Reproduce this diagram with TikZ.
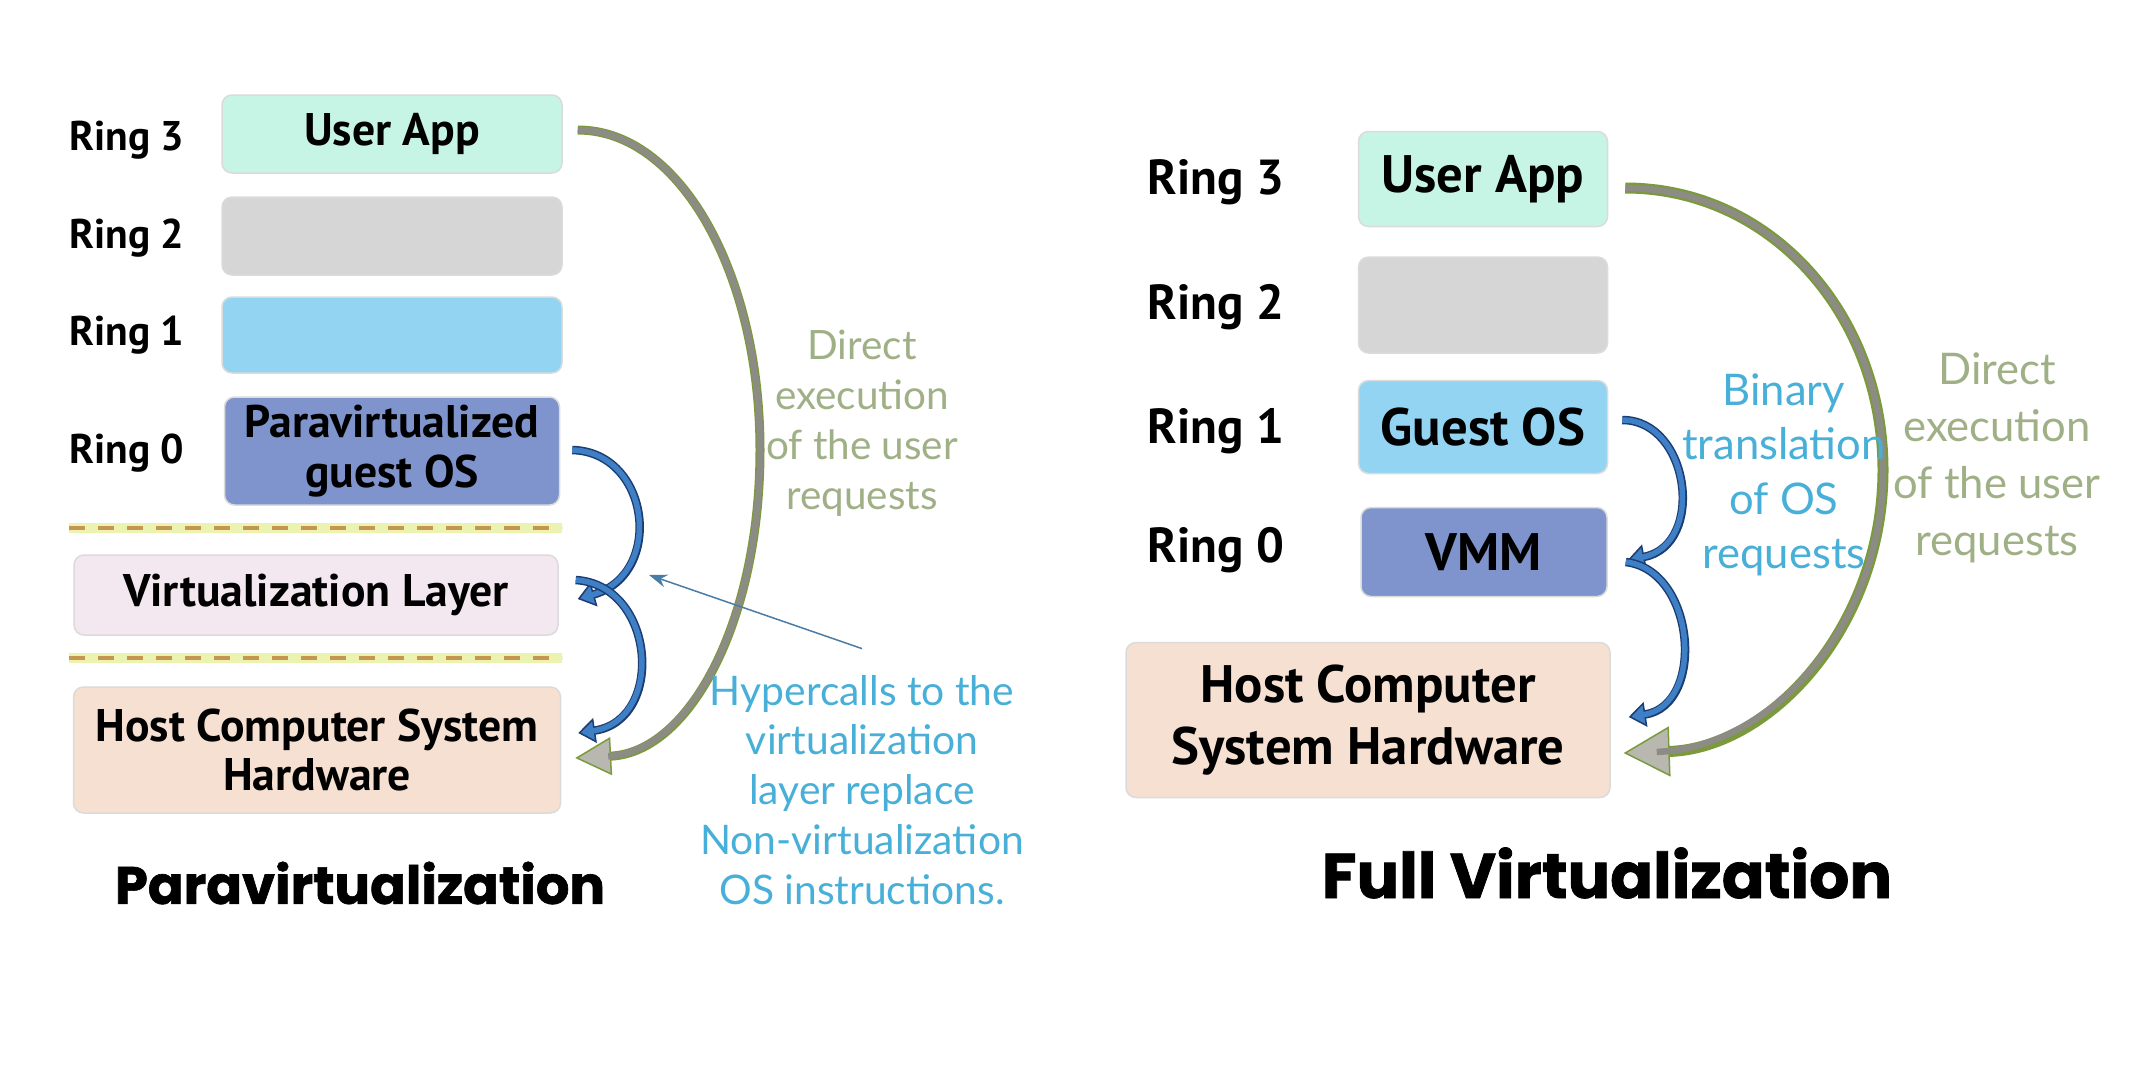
\documentclass[tikz,border=0pt]{standalone}
\usepackage{fontspec}
\setmainfont{PT Sans}
\newfontfamily\notefont{Lato}
\newfontfamily\titlefont{Poppins}[BoldFeatures={FakeBold=1.2}]
\usetikzlibrary{arrows.meta}
\definecolor{mint}{RGB}{198,245,230}
\definecolor{ringgray}{RGB}{214,214,214}
\definecolor{skyblue}{RGB}{146,212,242}
\definecolor{periwinkle}{RGB}{127,147,204}
\definecolor{palepink}{RGB}{244,232,240}
\definecolor{peach}{RGB}{246,224,210}
\definecolor{navy}{RGB}{28,61,114}
\definecolor{callblue}{RGB}{63,127,198}
\definecolor{olive}{RGB}{122,154,60}
\definecolor{bandgray}{RGB}{140,140,132}
\definecolor{headgray}{RGB}{184,184,176}
\definecolor{notegreen}{RGB}{160,176,134}
\definecolor{noteblue}{RGB}{72,176,216}
\definecolor{pointerblue}{RGB}{74,124,168}
\definecolor{sepbrown}{RGB}{196,150,80}
\definecolor{sepglow}{RGB}{236,242,176}
\newcommand{\uring}[1]{Ring #1}

\begin{document}
\begin{tikzpicture}[
		x=0.1mm, y=-0.1mm,
		ringbox/.style={draw=black!14, line width=0.15mm, rounded corners=1mm, align=center, inner sep=0pt},
		smallbox/.style={ringbox, font=\bfseries\fontsize{13}{14.2}\selectfont},
		largebox/.style={ringbox, font=\bfseries\fontsize{15}{17.4}\selectfont},
		smallring/.style={font=\bfseries\fontsize{11.8}{14}\selectfont},
		largering/.style={font=\bfseries\fontsize{14}{17}\selectfont},
		directnote/.style={align=center, text=notegreen},
		callnote/.style={align=center, text=noteblue},
		hcall/.style={draw=navy, line width=0.85mm,
			-{Triangle[length=1.7mm, width=2.5mm, fill=callblue, line width=0.15mm]},
			postaction={draw=callblue, line width=0.55mm, arrows=-, shorten >=1.5mm}},
		direct/.style={draw=olive, line width=0.9mm,
			-{Triangle[length=3.6mm, width=3.8mm, fill=headgray, line width=0.15mm]},
			postaction={draw=bandgray, line width=0.65mm, arrows=-, shorten >=3.3mm}},
		pointer/.style={draw=pointerblue, line width=0.15mm, -{Stealth[length=1.8mm, width=1.3mm]}},
		glowline/.style={draw=sepglow, line width=1mm},
		dashline/.style={draw=sepbrown, line width=0.4mm, dash pattern=on 1.6mm off 1.3mm},
		heading/.style={font=\titlefont\bfseries}
	]
		\useasboundingbox[fill=white] (0,0) rectangle (2142,1069);

		% Paravirtualization
		\node[smallbox, fill=mint, minimum width=34mm, minimum height=7.8mm] (ua) at (392,134) {User App};
		\node[smallbox, fill=ringgray, minimum width=34mm, minimum height=7.8mm] (r2) at (392,236) {};
		\node[smallbox, fill=skyblue, minimum width=34mm, minimum height=7.6mm] (r1) at (392,335) {};
		\node[smallbox, fill=periwinkle, minimum width=33.5mm, minimum height=10.8mm] (r0) at (392,451)
			{Paravirtualized\\guest OS};
		\node[smallbox, fill=palepink, minimum width=48.4mm, minimum height=8mm] (vl) at (316,595)
			{Virtualization Layer};
		\node[smallbox, fill=peach, minimum width=48.7mm, minimum height=12.6mm] (hw) at (317,750)
			{Host Computer System\\Hardware};
		\node[smallring] at (127,140) {\uring{3}};
		\node[smallring] at (127,238) {\uring{2}};
		\node[smallring] at (127,335) {\uring{1}};
		\node[smallring] at (127,453) {\uring{0}};
		\foreach \y in {528,658} {
			\draw[glowline] (69,\y) -- (562,\y);
			\draw[dashline] (69,\y) -- (562,\y);
		}
		\draw[direct] ([shift={(15,-4)}]ua.east) .. controls +(102,0) and +(0,-177) .. (760,450)
			.. controls +(0,170) and +(115,-6) .. ([shift={(14,8)}]hw.east);
		\draw[hcall] ([shift={(12,-1)}]r0.east) .. controls +(78,2) and +(87,-25) .. ([shift={(19,4)}]vl.east);
		\draw[hcall] ([shift={(17,-15)}]vl.east) .. controls +(80,5) and +(87,-13) .. ([shift={(17,-17)}]hw.east);
		\node[directnote, font=\notefont\fontsize{11.5}{14.2}\selectfont] (dirl) at (862,423)
			{Direct\\execution\\of the user\\requests};
		\node[callnote, font=\notefont\fontsize{11.6}{14.2}\selectfont] (hyper) at (862,790)
			{Hypercalls to the\\virtualization\\layer replace\\Non-virtualization\\OS instructions.};
		\coordinate (hyptip) at (649,575);
		\draw[pointer] ([yshift=1.4mm]hyper.north) -- (hyptip);
		\node[heading, font=\titlefont\bfseries\fontsize{15}{18}\selectfont] (ptitle) at (360,883) {Paravirtualization};

		% Full Virtualization
		\node[largebox, fill=mint, minimum width=24.9mm, minimum height=9.5mm] (fua) at (1483,179) {User App};
		\node[largebox, fill=ringgray, minimum width=24.9mm, minimum height=9.6mm] (fr2) at (1483,305) {};
		\node[largebox, fill=skyblue, minimum width=24.9mm, minimum height=9.3mm] (fgos) at (1483,427) {Guest OS};
		\node[largebox, fill=periwinkle, minimum width=24.6mm, minimum height=8.9mm] (fvmm) at (1484,552) {VMM};
		\node[largebox, fill=peach, minimum width=48.4mm, minimum height=15.5mm] (fhw) at (1368,720)
			{Host Computer\\System Hardware};
		\node[largering] at (1216,182) {\uring{3}};
		\node[largering] at (1216,307) {\uring{2}};
		\node[largering] at (1216,431) {\uring{1}};
		\node[largering] at (1216,550) {\uring{0}};
		\draw[direct, line width=1.1mm, -{Triangle[length=4.6mm, width=5mm, fill=headgray, line width=0.15mm]},
			postaction={line width=0.85mm, shorten >=4.3mm}] ([shift={(17,9)}]fua.east)
			.. controls +(145,0) and +(0,-156) .. (1883,470)
			.. controls +(0,156) and +(147,-5) .. ([shift={(13,33)}]fhw.east);
		\draw[hcall] ([shift={(14,-7)}]fgos.east) .. controls +(68,0) and +(78,-15) .. ([shift={(20,8)}]fvmm.east);
		\draw[hcall] ([shift={(18,10)}]fvmm.east) .. controls +(70,8) and +(77,-12) .. ([shift={(18,-3)}]fhw.east);
		\node[callnote, font=\notefont\fontsize{12.4}{15.5}\selectfont] (bin) at (1784,475)
			{Binary\\translation\\of OS\\requests};
		\node[directnote, font=\notefont\fontsize{12.4}{16.2}\selectfont] (dirr) at (1997,458)
			{Direct\\execution\\of the user\\requests};
		\node[heading, font=\titlefont\bfseries\fontsize{18}{21}\selectfont] (ftitle) at (1607,873) {Full Virtualization};
	\end{tikzpicture}
\end{document}
